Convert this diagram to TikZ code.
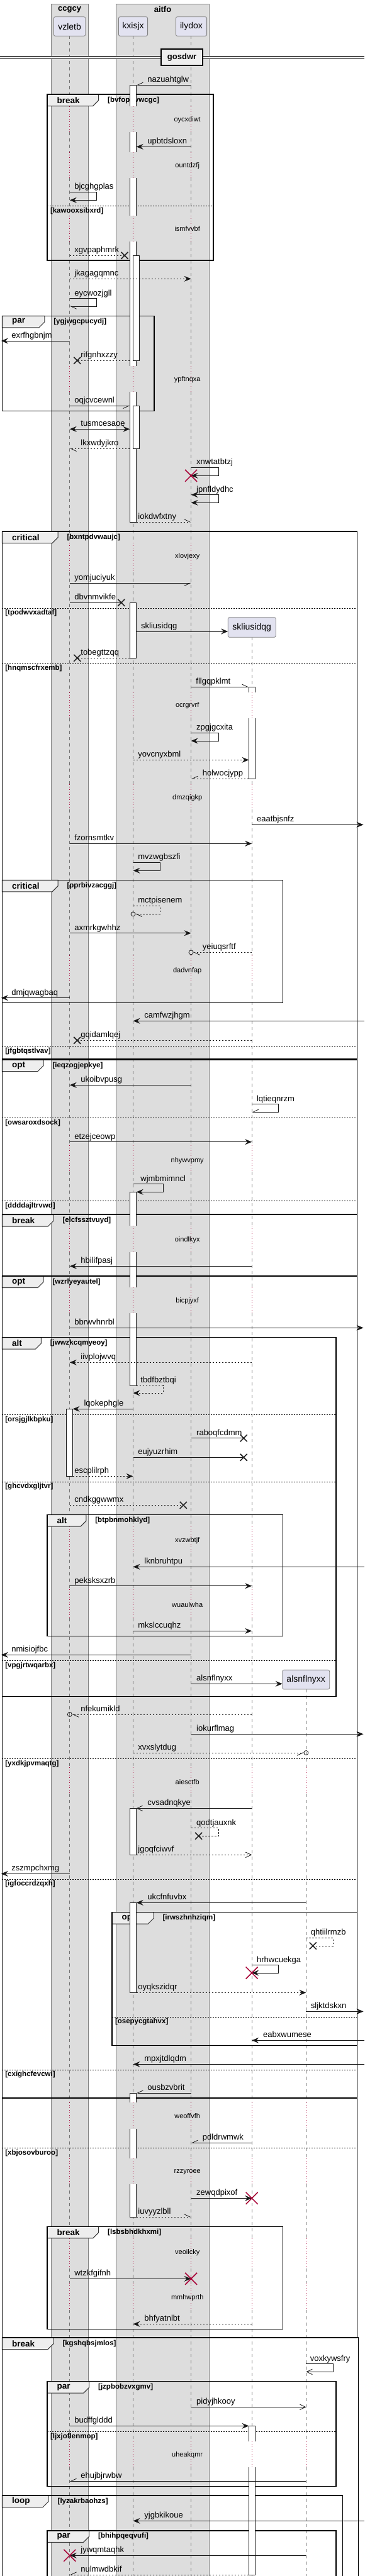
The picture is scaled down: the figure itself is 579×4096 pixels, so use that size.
\documentclass[tikz,border=0pt]{standalone}
\usepackage{fontspec}
\setmainfont{Liberation Sans}
\usetikzlibrary{arrows.meta}

\definecolor{grpfill}{HTML}{DDDDDD}
\definecolor{partfill}{HTML}{E2E2F0}
\definecolor{tabfill}{HTML}{EEEEEE}
\definecolor{dred}{HTML}{A80036}
\definecolor{ink}{HTML}{181818}

\tikzset{
  fa/.tip={Stealth[length=11pt,width=9pt,inset=4pt]},
  oa/.tip={Straight Barb[length=9pt,width=8.5pt]},
  ha/.tip={Straight Barb[harpoon,length=9pt,width=8.5pt]},
  hs/.tip={Straight Barb[harpoon,swap,length=9pt,width=8.5pt]},
  msg/.style={draw=ink, line width=0.8pt},
  dmsg/.style={msg, dash pattern=on 2.5pt off 2.5pt},
  lifeline/.style={draw=black!55, line width=0.8pt, dash pattern=on 5pt off 5pt},
  delayline/.style={draw=dred, line width=0.9pt, dash pattern=on 1pt off 3pt},
  actbar/.style={fill=white, draw=ink, line width=0.8pt},
  frame/.style={draw=black, line width=1.5pt},
  tabbox/.style={fill=tabfill, draw=black!80, line width=1pt},
  sepline/.style={draw=black, line width=0.8pt, dash pattern=on 2pt off 2pt},
  grpbox/.style={fill=grpfill, draw=black!50, line width=0.8pt},
  partbox/.style={fill=partfill, draw=black!50, line width=0.8pt, rounded corners=2.5pt,
    inner sep=0pt, font=\fontsize{14}{16}\selectfont},
  lbl/.style={anchor=base west, inner sep=0pt, yshift=4.5pt, font=\fontsize{13}{15}\selectfont},
  dlbl/.style={inner sep=0pt, font=\fontsize{11}{13}\selectfont},
  glbl/.style={anchor=west, inner sep=0pt, font=\bfseries\fontsize{11.5}{13}\selectfont},
  klbl/.style={anchor=west, inner sep=0pt, font=\bfseries\fontsize{13.5}{15}\selectfont},
  ttl/.style={inner sep=0pt, font=\bfseries\fontsize{13}{15}\selectfont},
  xcross/.style={draw=black!85, line width=1.6pt},
  dcross/.style={draw=dred, line width=1.5pt},
}

% message: style, from, to, y, name, label x, text
\newcommand{\seqmsg}[7]{\draw[#1] (#2 |- 0,#4) -- (#3 |- 0,#4) node[lbl] (#5) at (#6,#4) {#7};}
% self message: style, from, loop x, y1, y2, to, name, label x, text
\newcommand{\seqself}[9]{\draw[#1] (#2 |- 0,#4) -- (#3,#4) -- (#3,#5) -- (#6 |- 0,#5) node[lbl] (#7) at (#8,#4) {#9};}
% group frame: name, x0, x1, y0, y1, tab right, kind, guard
\newcommand{\grpframe}[8]{%
  \draw[tabbox] (#2,#4) -- (#6,#4) -- (#6,#4+9.5) -- (#6-9,#4+18.5) -- (#2,#4+18.5) -- cycle;
  \draw[frame] (#2,#4) rectangle (#3,#5);
  \node[klbl] (#1-k) at (#2+15.5,#4+9.25) {#7};
  \node[glbl] (#1-g) at (#6+14.3,#4+9.25) {[#8]};}
% else line: name, x0, x1, y, guard
\newcommand{\grpsep}[5]{\draw[sepline] (#2,#4) -- (#3,#4);
  \node[glbl] (#1) at (#2+4.8,#4+8) {[#5]};}
\newcommand{\delaytxt}[3]{\node[dlbl] (#1) at (297.7,#2) {#3};}
\newcommand{\lostx}[2]{\draw[xcross] (#1-5.5,#2-5.5) -- (#1+5.5,#2+5.5) (#1-5.5,#2+5.5) -- (#1+5.5,#2-5.5);}
\newcommand{\killx}[2]{\draw[dcross] (#1-9.5,#2-9.5) -- (#1+9.5,#2+9.5) (#1-9.5,#2+9.5) -- (#1+9.5,#2-9.5);}
\newcommand{\circend}[2]{\draw[msg] (#1,#2) circle[radius=3.5pt];}
% activation pieces: x0, x1, y0, y1
\newcommand{\actBox}[4]{\draw[actbar] (#1,#3) rectangle (#2,#4);}
\newcommand{\actTop}[4]{\fill[white] (#1,#3) rectangle (#2,#4); \draw[msg] (#1,#4) -- (#1,#3) -- (#2,#3) -- (#2,#4);}
\newcommand{\actBot}[4]{\fill[white] (#1,#3) rectangle (#2,#4); \draw[msg] (#1,#3) -- (#1,#4) -- (#2,#4) -- (#2,#3);}
\newcommand{\actMid}[4]{\fill[white] (#1,#3) rectangle (#2,#4); \draw[msg] (#1,#3) -- (#1,#4) (#2,#3) -- (#2,#4);}

% lifeline pieces between the delays
\newcommand{\segsA}{57.3/169.3, 210/241.7, 283/342.7, 384/581.7, 623/863.3, 910/1100.7}
\newcommand{\segsB}{1142/1246.7, 1286.7/1519.3, 1563.3/1820.7, 1863.3/1949.3, 1991/2046.7, 2088.3/2427.3, 2470/2526.7, 2573.3/2810}
\newcommand{\segsC}{2851.7/3343.3, 3385/3431.7, 3472.7/3559.3, 3606.7/3630, 3673.3/3881.7, 3922.7/4110}
\newcommand{\gapsA}{169.3/210, 241.7/283, 342.7/384, 581.7/623, 863.3/910}
\newcommand{\gapsB}{1100.7/1142, 1246.7/1286.7, 1519.3/1563.3, 1820.7/1863.3, 1949.3/1991, 2046.7/2088.3, 2427.3/2470, 2526.7/2573.3}
\newcommand{\gapsC}{2810/2851.7, 3343.3/3385, 3431.7/3472.7, 3559.3/3606.7, 3630/3673.3, 3881.7/3922.7}

\begin{document}
\begin{tikzpicture}[x=1pt, y=-1pt]
\useasboundingbox (0,0) rectangle (579,4096);
\clip (0,0) rectangle (579,4096);
\fill[white] (0,0) rectangle (579,4096);

%% boxes and participants
\draw[grpbox] (81.3,6.3) rectangle (139.9,4110);
\draw[grpbox] (184.3,6.3) rectangle (332.7,4110);
\node[ttl] (ccgcy) at (110.6,15) {ccgcy};
\node[ttl] (aitfo) at (258.5,15) {aitfo};

\coordinate (vz) at (110.8,0);
\coordinate (vzr) at (115.6,0);
\coordinate (kx) at (211.5,0);
\coordinate (kxl) at (206.3,0);
\coordinate (kxr) at (216.7,0);
\coordinate (il) at (303.6,0);
\coordinate (sk) at (400.2,0);
\coordinate (skl) at (395.4,0);
\coordinate (al) at (486.4,0);
\coordinate (lft) at (1.9,0);
\coordinate (rgt) at (577.5,0);
\coordinate (rgt0) at (579,0);

%% lifelines
\foreach \x in {110.8,211.5,303.6}{
  \foreach \a/\b in \segsA {\draw[lifeline] (\x,\a) -- (\x,\b);}
  \foreach \a/\b in \segsB {\draw[lifeline] (\x,\a) -- (\x,\b);}
  \foreach \a/\b in \segsC {\draw[lifeline] (\x,\a) -- (\x,\b);}
  \foreach \a/\b in \gapsA {\draw[delayline] (\x,\a) -- (\x,\b);}
  \foreach \a/\b in \gapsB {\draw[delayline] (\x,\a) -- (\x,\b);}
  \foreach \a/\b in \gapsC {\draw[delayline] (\x,\a) -- (\x,\b);}
}
\draw[lifeline] (400.2,1013.3) -- (400.2,1100.7);
\foreach \a/\b in \segsB {\draw[lifeline] (400.2,\a) -- (400.2,\b);}
\foreach \a/\b in \segsC {\draw[lifeline] (400.2,\a) -- (400.2,\b);}
\foreach \a/\b in \gapsB {\draw[delayline] (400.2,\a) -- (400.2,\b);}
\foreach \a/\b in \gapsC {\draw[delayline] (400.2,\a) -- (400.2,\b);}
\draw[lifeline] (486.4,2686) -- (486.4,2810);
\foreach \a/\b in \segsC {\draw[lifeline] (486.4,\a) -- (486.4,\b);}
\foreach \a/\b in \gapsC {\draw[delayline] (486.4,\a) -- (486.4,\b);}

\node[partbox, minimum width=50.4pt, minimum height=30.6pt] (vzletb) at (110.6,42) {vzletb};
\node[partbox, minimum width=46.2pt, minimum height=30.6pt] (kxisjx) at (211.5,42) {kxisjx};
\node[partbox, minimum width=49.2pt, minimum height=30.6pt] (ilydox) at (304,42) {ilydox};
\node[partbox, minimum width=76.1pt, minimum height=31.6pt] (skliusidqg) at (400.2,997.5) {skliusidqg};
\node[partbox, minimum width=75pt, minimum height=30.7pt] (alsnflnyxx) at (486.2,2670.7) {alsnflnyxx};

%% divider
\fill[white] (0,89.7) rectangle (579,93.7);
\draw[line width=0.9pt] (0,89.7) -- (579,89.7) (0,93.7) -- (579,93.7);
\node[draw=black, line width=2pt, fill=tabfill, minimum width=65.6pt, minimum height=25.7pt,
  inner sep=0pt, font=\bfseries\fontsize{13}{15}\selectfont] (gosdwr) at (289.1,91.2) {gosdwr};

%% group frames
\grpframe{f1}{75}{339}{150}{414}{156.7}{break}{bvfopirvwcgc}
\grpsep{s1}{75}{339}{327.3}{kawooxsibxrd}
\grpframe{f2}{3.4}{245}{502.3}{653.7}{70.9}{par}{ygjwgcpucydj}
\grpframe{f3}{3.4}{567.3}{845}{1683.3}{92.1}{critical}{bxntpdvwaujc}
\grpsep{s2}{3.4}{567.3}{967}{tpodwvxadtaf}
\grpsep{s3}{3.4}{567.3}{1055}{hnqmscfrxemb}
\grpsep{s4}{3.4}{567.3}{1663.3}{jfgbtqstlvav}
\grpframe{f4}{3.4}{449.5}{1399.3}{1594.3}{92.1}{critical}{pprbivzacggj}
\grpframe{f5}{3.4}{567.3}{1685}{1931}{69}{opt}{ieqzogjepkye}
\grpsep{s5}{3.4}{567.3}{1777.3}{owsaroxdsock}
\grpsep{s6}{3.4}{567.3}{1909.3}{ddddajltrvwd}
\grpframe{f6}{3.4}{567.3}{1931.7}{3716.7}{85}{break}{elcfssztvuyd}
\grpsep{s7}{3.4}{567.3}{3415.7}{xbjosovburoo}
\grpframe{f7}{3.4}{567.3}{2029}{3336}{69}{opt}{wzrlyeyautel}
\grpsep{s8}{3.4}{567.3}{2796.3}{yxdkjpvmaqtg}
\grpsep{s9}{3.4}{567.3}{2988}{igfoccrdzqxh}
\grpsep{s10}{3.4}{567.3}{3291}{cxighcfevcwi}
\grpframe{f8}{3.4}{534.1}{2126.7}{2697.3}{65.3}{alt}{jwwzkcqmyeoy}
\grpsep{s11}{3.4}{534.1}{2249.3}{orsjgjlkbpku}
\grpsep{s12}{3.4}{534.1}{2356}{ghcvdxgljtvr}
\grpsep{s13}{3.4}{534.1}{2640.3}{vpgjrtwqarbx}
\grpframe{f9}{75}{449.5}{2408.7}{2601.3}{136.9}{alt}{btpbnmohklyd}
\grpframe{f10}{178}{567.3}{3040.7}{3252.3}{244}{opt}{irwszhnhziqm}
\grpsep{s14}{178}{567.3}{3207}{osepycgtahvx}
\grpframe{f12}{75}{449.5}{3540.3}{3703.3}{156.7}{break}{lsbsbhdkhxmi}
\grpframe{f13}{3.4}{569.6}{3717}{4110}{85}{break}{kgshqbsjmlos}
\grpframe{f14}{75}{534.1}{3786.7}{3953.3}{141.7}{par}{jzpbobzvxgmv}
\grpsep{s15}{75}{534.1}{3866.7}{ljxjoflenmop}
\grpframe{f15}{3.4}{544.6}{3968}{4110}{77.2}{loop}{lyzakrbaohzs}
\grpframe{f16}{75}{534.1}{4023.7}{4110}{141.7}{par}{bhihpqeqvufi}

%% delays
\delaytxt{d1}{190.3}{oycxdiwt}
\delaytxt{d2}{263.3}{ountdzfj}
\delaytxt{d3}{364}{ismfvvbf}
\delaytxt{d4}{603.3}{ypftnqxa}
\delaytxt{d5}{885}{xlovjexy}
\delaytxt{d6}{1122}{ocrgrvrf}
\delaytxt{d7}{1268.3}{dmzqigkp}
\delaytxt{d8}{1544}{dadvnfap}
\delaytxt{d9}{1845.3}{nhywvpmy}
\delaytxt{d10}{1971.3}{oindlkyx}
\delaytxt{d11}{2068.3}{bicpjyxf}
\delaytxt{d12}{2449.3}{xvzwbtjf}
\delaytxt{d13}{2551.3}{wuaulwha}
\delaytxt{d14}{2833.3}{aiesctfb}
\delaytxt{d15}{3365}{weoffvfh}
\delaytxt{d16}{3453.3}{rzzyroee}
\delaytxt{d17}{3581.7}{veoilcky}
\delaytxt{d18}{3653.3}{mmhwprth}
\delaytxt{d19}{3903.3}{uheakqmr}

%% activations
\actTop{206.3}{216.7}{135.3}{169.3}
\actMid{206.3}{216.7}{210}{241.7}
\actMid{206.3}{216.7}{283}{342.7}
\actMid{206.3}{216.7}{384}{581.7}
\actBot{206.3}{216.7}{623}{830}
\actBox{211.5}{221.6}{406.3}{573.3}
\actBox{211.5}{221.6}{645.3}{713.3}
\actBox{206.3}{216.7}{958.3}{1046.3}
\actTop{395.4}{405.5}{1092.3}{1100.7}
\actBot{395.4}{405.5}{1142}{1238.3}
\actTop{206.3}{216.7}{1895.3}{1949.3}
\actMid{206.3}{216.7}{1991}{2046.7}
\actBot{206.3}{216.7}{2088.3}{2203.3}
\actBox{105.6}{115.6}{2240.3}{2347.3}
\actBox{206.3}{216.7}{2875.3}{2949.3}
\actBox{206.3}{216.7}{3025.3}{3168.3}
\actTop{206.3}{216.7}{3328}{3343.3}
\actMid{206.3}{216.7}{3385}{3431.7}
\actBot{206.3}{216.7}{3472.7}{3525}
\actTop{395.4}{405.5}{3857.3}{3881.7}
\actBot{395.4}{405.5}{3922.7}{4094}

%% messages
\seqmsg{msg,-hs}{il}{kxr}{135.3}{m01}{233.9}{nazuahtglw}
\seqmsg{msg,-fa}{il}{kxr}{233.3}{m02}{233.9}{upbtdsloxn}
\seqself{msg,-fa}{vz}{153.3}{305.3}{318.3}{vz}{m03}{117.9}{bjcghgplas}
\seqmsg{dmsg}{vz}{198,0}{406.3}{m04}{117.9}{xgvpaphmrk}
\lostx{198}{406.3}
\seqmsg{dmsg,-fa}{vz}{il}{443.3}{m05}{117.9}{jkagagqmnc}
\seqself{msg,-ha}{vz}{153.3}{474.7}{487}{vz}{m06}{117.9}{eycwozjgll}
\seqmsg{msg,-fa}{vz}{lft}{542}{m07}{17.9}{exrfhgbnjm}
\seqmsg{dmsg}{kxl}{122.7,0}{573.3}{m08}{128}{rifgnhxzzy}
\lostx{122.7}{573.3}
\seqmsg{msg,-hs}{vz}{kxl}{645.3}{m09}{117.9}{oqjcvcewnl}
\seqmsg{msg,fa-fa}{vz}{kxl}{682.3}{m10}{128}{tusmcesaoe}
\seqmsg{dmsg,-ha}{kxl}{vz}{713.3}{m11}{128}{lkxwdyjkro}
\seqself{msg,-fa}{il}{347.3}{743.3}{756.3}{il}{m12}{311.8}{xnwtatbtzj}
\killx{303.6}{756.3}
\seqself{msg,fa-fa}{il}{347.3}{786.7}{799.3}{il}{m13}{311.8}{jpnfldydhc}
\seqmsg{dmsg,-ha}{kxr}{il}{830}{m14}{219}{iokdwfxtny}
\seqmsg{msg,-hs}{vz}{il}{927.3}{m15}{117.9}{yomjuciyuk}
\seqmsg{msg}{vz}{192.8,0}{958.3}{m16}{117.9}{dbvnmvikfe}
\lostx{192.8}{958.3}
\seqmsg{msg,-fa}{kxr}{362.2,0}{1004}{m17}{223.8}{skliusidqg}
\seqmsg{dmsg}{kxl}{122.7,0}{1046.3}{m18}{128}{tobegttzqq}
\lostx{122.7}{1046.3}
\seqmsg{msg,-ha}{il}{skl}{1092.3}{m19}{311}{fllgqpklmt}
\seqself{msg,-fa}{il}{347.3}{1165.3}{1178}{il}{m20}{311.8}{zpgjgcxita}
\seqmsg{dmsg,-fa}{kx}{skl}{1208.3}{m21}{219}{yovcnyxbml}
\seqmsg{dmsg,-hs}{skl}{il}{1238.3}{m22}{321.5}{holwocjypp}
\seqmsg{msg,-fa}{sk}{rgt}{1311.3}{m23}{407.7}{eaatbjsnfz}
\seqmsg{msg,-fa}{vz}{sk}{1341.3}{m24}{117.9}{fzornsmtkv}
\seqself{msg,-fa}{kx}{254}{1371.3}{1384.3}{kx}{m25}{219}{mvzwgbszfi}
\seqself{dmsg,-ha}{kx}{254}{1440.3}{1453.3}{215,0}{m26}{219}{mctpisenem}
\circend{211.5}{1453.3}
\seqmsg{msg,-fa}{vz}{il}{1483.7}{m27}{117.9}{axmrkgwhhz}
\seqmsg{dmsg,-ha}{sk}{307.1,0}{1514.3}{m28}{321.5}{yeiuqsrftf}
\circend{303.6}{1514.3}
\seqmsg{msg,-fa}{vz}{lft}{1586.7}{m29}{17.9}{dmjqwagbaq}
\seqmsg{msg,-fa}{rgt0}{kx}{1623.3}{m30}{229}{camfwzjhgm}
\seqmsg{dmsg}{sk}{122.7,0}{1654.3}{m31}{128}{gqidamlqej}
\lostx{122.7}{1654.3}
\seqmsg{msg,-fa}{il}{vz}{1725.3}{m32}{128}{ukoibvpusg}
\seqself{msg,-hs}{sk}{442.8}{1755.7}{1768.3}{sk}{m33}{407.7}{lqtieqnrzm}
\seqmsg{msg,-fa}{vz}{sk}{1815.7}{m34}{117.9}{etzejceowp}
\seqself{msg,-fa}{kx}{258.9}{1882.7}{1895.3}{kxr}{m35}{223}{wjmbmimncl}
\seqmsg{msg,-fa}{sk}{vz}{2013.3}{m36}{128}{hbilifpasj}
\seqmsg{msg,-fa}{vz}{rgt}{2111.3}{m37}{117.9}{bbrwvhnrbl}
\seqmsg{dmsg,-fa}{sk}{vz}{2166.3}{m38}{128}{iivplojwvq}
\seqself{dmsg,-fa}{kxr}{258.9}{2202.7}{2215}{kx}{m39}{223}{tbdfbztbqi}
\seqmsg{msg,-fa}{kx}{vzr}{2240.3}{m40}{133.2}{lqokephgle}
\seqmsg{msg}{il}{387.2,0}{2286.7}{m41}{311.8}{raboqfcdmm}
\lostx{387.2}{2286.7}
\seqmsg{msg}{kx}{387.2,0}{2317.3}{m42}{219}{eujyuzrhim}
\lostx{387.2}{2317.3}
\seqmsg{dmsg,-fa}{vzr}{kx}{2347.3}{m43}{117.9}{escplilrph}
\seqmsg{dmsg}{vz}{291.3,0}{2393.3}{m44}{117.9}{cndkggwwmx}
\lostx{291.3}{2393.3}
\seqmsg{msg,-fa}{rgt0}{kx}{2491.3}{m45}{229}{lknbruhtpu}
\seqmsg{msg,-fa}{vz}{sk}{2521.7}{m46}{117.9}{peksksxzrb}
\seqmsg{msg,-fa}{kx}{sk}{2593.3}{m47}{219}{mkslccuqhz}
\seqmsg{msg,-fa}{il}{lft}{2631.3}{m48}{17.9}{nmisiojfbc}
\seqmsg{msg,-fa}{il}{448.7,0}{2677.3}{m49}{311.8}{alsnflnyxx}
\seqmsg{dmsg,-ha}{sk}{114.3,0}{2726}{m50}{128}{nfekumikld}
\circend{110.8}{2726}
\seqmsg{msg,-fa}{il}{rgt}{2757.3}{m51}{311.8}{iokurflmag}
\seqmsg{dmsg,-hs}{kx}{482.9,0}{2787}{m52}{219}{xvxslytdug}
\circend{486.4}{2787}
\seqmsg{msg,-oa}{sk}{kxr}{2875.3}{m53}{233.9}{cvsadnqkye}
\seqself{dmsg}{il}{347.3}{2906.7}{2919.3}{315.6,0}{m54}{311.8}{qodtjauxnk}
\lostx{315.6}{2919.3}
\seqmsg{dmsg,-oa}{kxr}{sk}{2949.3}{m55}{219}{jgoqfciwvf}
\seqmsg{msg,-fa}{vz}{lft}{2979.3}{m56}{17.9}{zszmpchxmg}
\seqmsg{msg,-fa}{al}{kxr}{3025.3}{m57}{233.9}{ukcfnfuvbx}
\seqself{dmsg}{al}{528.9}{3081.3}{3094}{497.3,0}{m58}{493.5}{qhtiilrmzb}
\lostx{497.3}{3094}
\seqself{msg,-fa}{sk}{442.8}{3124.7}{3137}{sk}{m59}{407.7}{hrhwcuekga}
\killx{400.2}{3137}
\seqmsg{dmsg,-fa}{kxr}{al}{3168.3}{m60}{219}{oyqkszidqr}
\seqmsg{msg,-fa}{al}{rgt}{3198.3}{m61}{493.5}{sljktdskxn}
\seqmsg{msg,-fa}{rgt0}{sk}{3244.3}{m62}{417.8}{eabxwumese}
\seqmsg{msg,-fa}{rgt0}{kx}{3282.3}{m63}{229}{mpxjtdlqdm}
\seqmsg{msg,-hs}{il}{kxr}{3328}{m64}{233.9}{ousbzvbrit}
\seqmsg{msg,-hs}{sk}{il}{3407.3}{m65}{321.5}{pdldrwmwk}
\seqmsg{msg,-fa}{il}{sk}{3495.3}{m66}{311.8}{zewqdpixof}
\killx{400.2}{3495.3}
\seqmsg{dmsg,-ha}{kxr}{il}{3525}{m67}{219}{iuvyyzlbll}
\seqmsg{msg,-fa}{vz}{il}{3623.3}{m68}{117.9}{wtzkfgifnh}
\killx{303.6}{3623.3}
\seqmsg{dmsg,-fa}{sk}{kx}{3695.3}{m69}{229}{bhfyatnlbt}
\seqself{msg,-oa}{al}{528.9}{3758.7}{3771.3}{al}{m70}{492.4}{voxkywsfry}
\seqmsg{msg,-oa}{il}{al}{3827.3}{m71}{311.8}{pidyjhkooy}
\seqmsg{msg,-fa}{vz}{skl}{3857.3}{m72}{117.9}{budffglddd}
\seqmsg{msg,-hs}{al}{vz}{3945.3}{m73}{128}{ehujbjrwbw}
\seqmsg{msg,-fa}{rgt0}{kx}{4008.3}{m74}{229}{yjgbkikoue}
\seqmsg{msg,-fa}{al}{vz}{4063.3}{m75}{128}{jywqmtaqhk}
\killx{110.8}{4063.3}
\seqmsg{dmsg,-hs}{skl}{vz}{4094}{m76}{128}{nulmwdbkif}
\end{tikzpicture}
\end{document}
